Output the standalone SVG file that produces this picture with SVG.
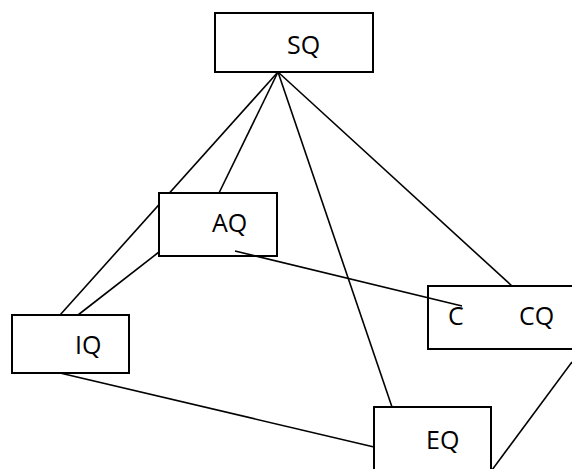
<svg xmlns="http://www.w3.org/2000/svg" width="572" height="469" viewBox="0 0 572 469">
<style>
.box{fill:#fff;stroke:#000;stroke-width:2}
.ln{stroke:#000;stroke-width:1.6;fill:none}
text{font-family:"Open Sans","Noto Sans",sans-serif;font-size:25px;fill:#000}
</style>
<rect width="572" height="469" fill="#fff"/>
<g id="connectors-back">
<line class="ln" x1="278" y1="72" x2="60" y2="315"/>
</g>
<g id="SQ"><rect class="box" x="215" y="13" width="158" height="59"/><text x="287" y="54">SQ</text></g>
<g id="AQ"><rect class="box" x="159" y="193" width="118" height="63"/><text x="212" y="232">AQ</text></g>
<g id="IQ"><rect class="box" x="12" y="315" width="117" height="58"/><text x="75" y="354">IQ</text></g>
<g id="CQ"><rect class="box" x="428" y="286" width="150" height="63"/><text x="448" y="325">C</text><text x="519" y="325">CQ</text></g>
<g id="EQ"><rect class="box" x="374" y="407" width="117" height="70"/><text x="426" y="449">EQ</text></g>
<g id="connectors">
<line class="ln" x1="278" y1="72" x2="219" y2="193"/>
<line class="ln" x1="278" y1="72" x2="392" y2="407"/>
<line class="ln" x1="278" y1="72" x2="512" y2="286"/>
<line class="ln" x1="159" y1="252" x2="78" y2="315"/>
<line class="ln" x1="235" y1="251" x2="462" y2="306"/>
<line class="ln" x1="60" y1="373" x2="374" y2="447"/>
<line class="ln" x1="572" y1="362" x2="492" y2="470"/>
</g>
</svg>
